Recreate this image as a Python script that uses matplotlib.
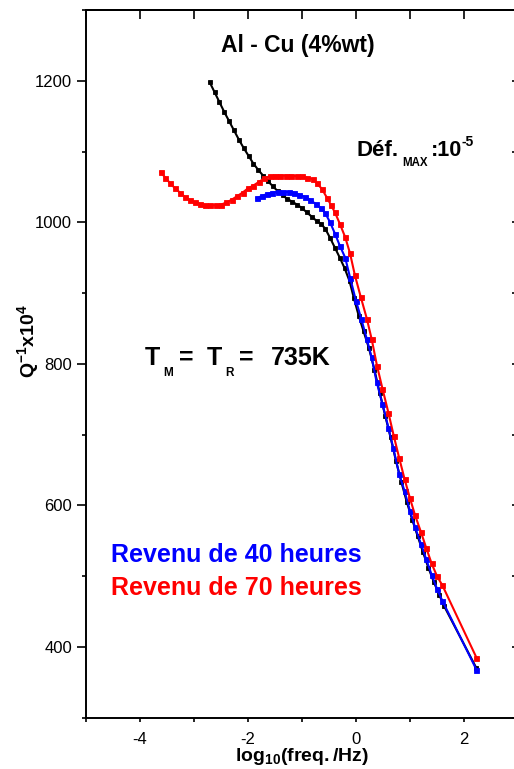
import matplotlib
matplotlib.use("Agg")
import matplotlib.pyplot as plt
from matplotlib.ticker import MultipleLocator, FixedLocator

plt.rcParams['font.family'] = ['Liberation Sans', 'DejaVu Sans']
plt.rcParams['axes.unicode_minus'] = False
plt.rcParams['mathtext.fontset'] = 'custom'
plt.rcParams['mathtext.rm'] = 'Liberation Sans'
plt.rcParams['mathtext.bf'] = 'Liberation Sans:bold'
plt.rcParams['mathtext.it'] = 'Liberation Sans:italic'

# ---- data (log10 freq, Q^-1 x 10^4) ----
black_x = [-2.71, -2.62, -2.53, -2.44, -2.35, -2.26, -2.17, -2.08, -1.99, -1.90,
           -1.81, -1.72, -1.63, -1.54, -1.45, -1.36, -1.27, -1.18, -1.09, -1.00,
           -0.91, -0.82, -0.73, -0.65, -0.57, -0.48, -0.39, -0.30, -0.21, -0.12,
           -0.04, 0.05, 0.14, 0.24, 0.34, 0.44, 0.54, 0.64, 0.74, 0.84,
           0.94, 1.04, 1.14, 1.24, 1.34, 1.44, 1.54, 1.63, 2.23]
black_y = [1198, 1184, 1170, 1156, 1143, 1130, 1117, 1105, 1094, 1083,
           1074, 1066, 1058, 1051, 1044, 1038, 1033, 1029, 1025, 1020,
           1014, 1008, 1002, 998, 991, 978, 964, 950, 935, 917,
           893, 868, 846, 822, 792, 759, 727, 696, 663, 633,
           605, 580, 557, 534, 512, 492, 474, 458, 370]

blue_x = [-1.84, -1.75, -1.65, -1.55, -1.45, -1.35, -1.25, -1.15, -1.05, -0.95,
          -0.85, -0.75, -0.65, -0.57, -0.48, -0.39, -0.30, -0.20, -0.11, 0.00,
          0.10, 0.20, 0.29, 0.38, 0.49, 0.60, 0.69, 0.80, 0.90, 1.00,
          1.09, 1.20, 1.30, 1.40, 1.50, 1.60, 2.23]
blue_y = [1034, 1037, 1040, 1042, 1043, 1043, 1043, 1042, 1039, 1036,
          1032, 1026, 1020, 1013, 1000, 984, 967, 950, 922, 889,
          863, 835, 809, 775, 743, 710, 681, 644, 620, 592,
          570, 546, 524, 502, 482, 465, 368]

red_x = [-3.62, -3.53, -3.44, -3.35, -3.26, -3.17, -3.07, -2.98, -2.89, -2.80,
         -2.70, -2.60, -2.50, -2.40, -2.30, -2.20, -2.10, -2.00, -1.90, -1.80,
         -1.70, -1.60, -1.50, -1.40, -1.30, -1.20, -1.10, -1.00, -0.90, -0.80,
         -0.72, -0.63, -0.54, -0.46, -0.39, -0.30, -0.20, -0.11, -0.02, 0.09,
         0.20, 0.29, 0.39, 0.49, 0.60, 0.70, 0.80, 0.90, 1.00, 1.09,
         1.20, 1.30, 1.40, 1.50, 1.60, 2.23]
red_y = [1071, 1063, 1055, 1048, 1042, 1036, 1031, 1028, 1026, 1024,
         1024, 1024, 1025, 1028, 1032, 1037, 1042, 1048, 1052, 1057,
         1062, 1065, 1066, 1066, 1066, 1066, 1065, 1065, 1063, 1061,
         1055, 1047, 1035, 1024, 1014, 998, 979, 956, 925, 894,
         864, 835, 797, 765, 731, 698, 667, 637, 610, 587,
         563, 540, 518, 500, 487, 385]

x_major = [-4, -2, 0, 2]
x_minor = [-5, -3, -1, 1]
y_major = [400, 600, 800, 1000, 1200]

W, H = 514, 769
fig = plt.figure(figsize=(W / 100, H / 100), dpi=100)
left, right, top, bottom = 86, 516, 10, 717.7
ax = fig.add_axes([left / W, 1 - bottom / H, (right - left) / W, (bottom - top) / H])

ax.plot(black_x, black_y, color='black', lw=1.5, marker='s', ms=3.0, mew=0.6, zorder=2)
ax.plot(blue_x, blue_y, color='#0000ff', lw=1.5, marker='s', ms=3.6, mew=0.6, zorder=3)
ax.plot(red_x, red_y, color='#ff0000', lw=1.5, marker='s', ms=3.6, mew=0.6, zorder=4)

ax.set_xlim(-5, (right - 356) / 54)
ax.set_ylim(300, 1300)

for s in ax.spines.values():
    s.set_linewidth(1.4)
ax.spines['right'].set_visible(False)

ax.xaxis.set_major_locator(FixedLocator(x_major))
ax.xaxis.set_minor_locator(FixedLocator(x_minor))
ax.yaxis.set_major_locator(FixedLocator(y_major))
ax.yaxis.set_minor_locator(MultipleLocator(100))
ax.tick_params(axis='x', which='both', direction='out', length=3, width=1.2,
               labelsize=12, pad=7.5)
ax.tick_params(axis='y', which='major', direction='out', length=6.5, width=1.2,
               labelsize=12, pad=3.5)
ax.tick_params(axis='y', which='minor', direction='out', length=3, width=1.2)

secx = ax.secondary_xaxis('top')
secx.set_xticks(list(range(-5, 3)))
secx.tick_params(direction='in', length=6.5, width=1.2, labeltop=False)
secx.spines['top'].set_linewidth(1.4)

secy = ax.secondary_yaxis('right')
secy.set_yticks(list(range(300, 1301, 100)))
secy.tick_params(direction='in', length=3, width=1.2, labelright=False)


def ftext(px, py, s, size, **kw):
    """Place bold text at figure pixel position (from top-left), baseline aligned."""
    kw.setdefault('fontweight', 'bold')
    kw.setdefault('va', 'baseline')
    kw.setdefault('ha', 'left')
    return fig.text(px / W, 1 - py / H, s, fontsize=size, **kw)


ftext(297.5, 52, 'Al - Cu (4%wt)', 16.5, ha='center')

# Déf._MAX:10^-5
ftext(357, 156, 'Déf.', 16)
ftext(402, 165.5, 'MAX', 8.3)
ftext(430.5, 156, ':10', 15.5)
ftext(462, 145.5, '-5', 10)

# T_M = T_R = 735K
ftext(145, 365, 'T', 18)
ftext(163.5, 375.5, 'M', 8.5)
ftext(178.5, 365, '=', 18)
ftext(206.5, 365, 'T', 18)
ftext(225, 375.5, 'R', 8.5)
ftext(238.5, 365, '=', 18)
ftext(270.5, 365, '735K', 18)

ftext(111, 561.7, 'Revenu de 40 heures', 18, color='#0000ff')
ftext(111, 595, 'Revenu de 70 heures', 18, color='#ff0000')

fig.text(28 / W, 1 - 341 / H, r'$\mathbf{Q^{-1}x10^4}$', fontsize=14,
         rotation=90, ha='center', va='center')
fig.text(302 / W, 1 - 761 / H, r'$\mathbf{log_{10}(freq./Hz)}$', fontsize=14,
         ha='center', va='baseline')

fig.savefig('out.png', dpi=100)
